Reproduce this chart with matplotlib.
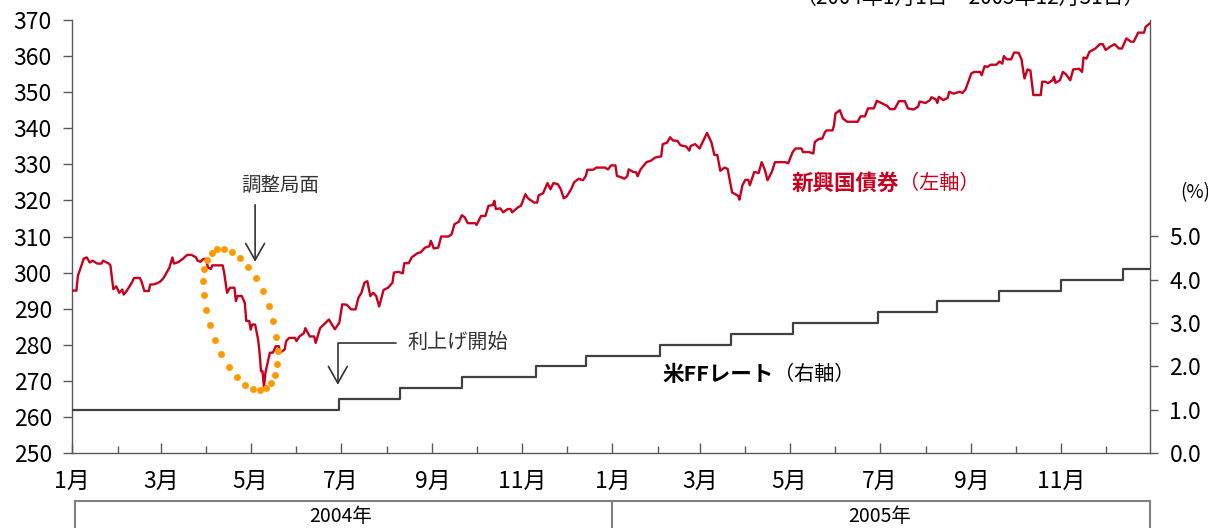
import matplotlib
matplotlib.use('Agg')
import matplotlib.pyplot as plt
import matplotlib.dates as mdates
import matplotlib.transforms as mtransforms
from matplotlib.ticker import FuncFormatter
import numpy as np
import pandas as pd

plt.rcParams['font.family'] = ['Noto Sans CJK JP', 'DejaVu Sans']

# 新興国債券 (左軸): days since 2004-01-01 and index level
bond_day = [
    0, 3, 4, 8, 10, 12, 14, 17, 20, 21, 25, 26, 28, 30, 32, 34, 35, 37, 39, 41,
    42, 46, 47, 49, 52, 53, 55, 58, 60, 62, 66, 68, 69, 72, 75, 78, 81, 84, 85, 87,
    89, 91, 92, 94, 95, 102, 103, 105, 107, 110, 111, 112, 115, 117, 118, 120, 121, 122, 124, 126,
    127, 128, 129, 130, 131, 132, 134, 136, 138, 140, 141, 144, 145, 147, 151, 152, 154, 157, 158, 161,
    164, 165, 168,
    174, 176, 178, 181, 183, 186, 189, 192, 194, 196, 198, 200, 202, 204, 206, 208, 211, 214, 217, 218,
    221, 224, 225, 228, 230, 234, 236, 237, 239, 242, 243, 245, 248, 250, 255, 257, 259, 262, 264, 266,
    268, 273, 274, 277, 280, 282, 285, 286, 287, 290, 292, 295, 297, 298, 302, 304, 307, 309, 313, 315,
    316, 319, 322, 324, 326, 329, 331, 333, 335, 338, 340, 343, 346, 348, 349, 353, 355, 361, 363, 365,
    368, 369, 372, 374, 376, 377, 380, 382, 383, 385, 389, 392, 395, 399, 400, 403, 405, 407, 410, 412,
    416, 418, 419, 422, 425, 428, 430, 433, 435, 437, 439, 442, 444, 447, 451,
    452, 454, 456, 458, 459, 462, 465, 467, 469, 471, 474, 476, 483, 485, 488, 490, 494, 495, 499, 502,
    503, 506, 508, 510, 511, 515, 516, 517, 520, 522, 525, 532, 534, 537, 539, 543, 545, 548, 552, 554,
    557, 560, 564, 566, 570, 573, 574, 578, 581, 582, 585, 586, 587, 590, 593, 594, 597, 601, 603, 605,
    607, 609, 611, 615, 616, 618, 620, 622, 626, 628, 630, 631, 633, 636, 638, 641, 643, 644, 645, 647,
    649, 651, 656, 657, 659, 661, 664, 665, 666, 669, 671, 673, 676, 678, 682, 684, 685, 687, 689, 693,
    696, 698, 700, 703, 706, 709, 711, 714, 717, 719, 722, 726, 727, 730,
]
bond_value = [
    295.0, 295.0, 299.1, 303.9, 304.2, 302.8, 303.3, 302.5, 302.5, 303.3, 302.5, 302.0, 295.4, 296.2, 294.4, 295.3, 293.9, 294.9, 296.2, 297.6,
    298.5, 298.5, 297.6, 294.9, 294.9, 296.7, 296.7, 297.1, 297.6, 298.5, 301.4, 304.2, 302.5, 302.9, 303.8, 304.9, 304.9, 304.2, 303.3, 303.0,
    303.8, 303.8, 301.4, 301.0, 302.0, 302.0, 300.1, 294.4, 295.8, 295.8, 292.1, 293.5, 293.5, 291.6, 286.6, 286.6, 284.2, 285.6, 285.6, 281.5,
    277.8, 272.7, 272.7, 268.1, 272.3, 274.1, 277.8, 277.8, 279.6, 279.6, 277.8, 278.7, 281.0, 281.9, 281.9, 281.0, 282.3, 283.2, 284.6, 282.3,
    282.3, 280.5, 284.6,
    287.0, 285.6, 284.3, 286.1, 291.2, 291.1, 289.8, 289.8, 293.1, 294.4, 297.2, 297.6, 293.5, 294.4, 293.5, 290.6, 295.2, 295.8, 297.2, 300.0,
    300.2, 299.8, 302.6, 302.6, 304.2, 305.4, 305.6, 306.0, 306.9, 307.3, 308.8, 306.7, 306.9, 310.0, 310.0, 310.6, 313.4, 314.1, 315.9, 315.3,
    313.7, 313.7, 313.2, 315.7, 315.7, 318.5, 318.7, 319.9, 317.6, 317.8, 316.7, 317.6, 317.6, 316.7, 318.1, 318.5, 321.7, 320.5, 319.4, 319.4,
    321.4, 322.0, 324.8, 323.1, 324.8, 324.5, 323.1, 320.6, 321.1, 323.1, 325.0, 326.0, 325.6, 326.8, 328.5, 328.5, 329.1, 329.1, 328.6, 329.7,
    329.7, 326.8, 326.4, 326.0, 326.7, 328.6, 327.9, 327.8, 326.7, 328.6, 330.6, 331.0, 331.9, 332.2, 335.6, 336.0, 337.5, 336.6, 336.5, 335.3,
    334.9, 333.8, 335.1, 335.6, 334.4, 337.0, 338.7, 336.1, 332.6, 332.6, 328.2, 329.1, 328.7, 322.2, 321.3,
    320.2, 324.2, 325.7, 325.7, 324.2, 327.9, 327.6, 330.6, 328.7, 325.6, 328.0, 330.6, 330.6, 330.3, 333.4, 334.4, 334.4, 333.4, 333.4, 333.0,
    336.2, 337.1, 337.1, 339.0, 339.4, 339.4, 340.8, 344.1, 345.0, 342.7, 341.8, 341.8, 343.3, 343.3, 345.5, 345.5, 347.6, 347.0, 346.2, 345.3,
    345.3, 347.5, 347.5, 345.5, 345.2, 346.0, 347.4, 347.0, 347.8, 348.6, 348.0, 347.0, 348.7, 347.8, 348.4, 350.1, 349.6, 350.1, 349.8, 350.7,
    352.9, 355.2, 355.6, 355.6, 354.7, 357.2, 357.0, 357.6, 357.6, 358.5, 357.9, 360.0, 359.1, 359.1, 361.0, 360.9, 359.1, 356.3, 353.8, 356.3,
    356.0, 349.2, 349.2, 352.9, 352.9, 352.5, 353.3, 354.3, 352.6, 353.3, 355.6, 355.0, 353.3, 356.3, 356.5, 355.6, 359.6, 359.3, 361.2, 362.1,
    363.3, 363.3, 361.7, 362.6, 363.3, 362.1, 362.1, 364.9, 364.0, 364.0, 366.5, 366.5, 368.1, 369.1,
]

# 米FFレート (右軸, %)
ff_dates = ['2004-01-01', '2004-06-30', '2004-08-10', '2004-09-21', '2004-11-10',
            '2004-12-14', '2005-02-02', '2005-03-22', '2005-05-03', '2005-06-30',
            '2005-08-09', '2005-09-20', '2005-11-01', '2005-12-13', '2005-12-31']
ff_rate = [1.00, 1.25, 1.50, 1.75, 2.00, 2.25, 2.50, 2.75, 3.00, 3.25,
           3.50, 3.75, 4.00, 4.25, 4.25]

years = ['2004年', '2005年']
left_ticks = np.arange(250, 371, 10)
right_ticks = np.arange(0, 5.1, 1.0)

RED = '#C8001E'
GREY = '#404040'
AXIS = '#595959'
ORANGE = '#FF9900'


def d(s):
    return mdates.date2num(pd.Timestamp(s))


start = pd.Timestamp('2004-01-01')
bond_dates = start + pd.to_timedelta(bond_day, unit='D')

fig = plt.figure(figsize=(12.08, 5.28), dpi=100)
ax = fig.add_axes([72 / 1208, 1 - 453 / 528, 1078 / 1208, 433 / 528])
ax2 = ax.twinx()

ax.plot(bond_dates, bond_value, color=RED, lw=1.7, zorder=3)
ax2.plot(pd.to_datetime(ff_dates), ff_rate, color=GREY, lw=1.6,
         drawstyle='steps-post')

ax.set_xlim(d('2004-01-01'), d('2005-12-31'))
ax.set_ylim(250, 370)
ax2.set_ylim(0, 10)
ax.set_yticks(left_ticks)
ax2.set_yticks(right_ticks)
ax2.yaxis.set_major_formatter(FuncFormatter(lambda v, p: f'{v:.1f}'))

ax.xaxis.set_major_locator(mdates.MonthLocator(bymonth=[1, 3, 5, 7, 9, 11]))
ax.xaxis.set_minor_locator(mdates.MonthLocator())
ax.xaxis.set_major_formatter(
    FuncFormatter(lambda v, p: f'{mdates.num2date(v).month}月'))

for a in (ax, ax2):
    a.spines['top'].set_visible(False)
    for s in a.spines.values():
        s.set_color(AXIS)
        s.set_linewidth(1.0)
ax.spines['right'].set_visible(False)
ax2.spines['left'].set_visible(False)
ax2.spines['bottom'].set_visible(False)

ax.tick_params(axis='x', which='major', direction='in', length=7, width=1,
               color=AXIS, labelsize=16.5, pad=12)
ax.tick_params(axis='x', which='minor', direction='in', length=5, width=1,
               color=AXIS)
ax.tick_params(axis='y', direction='out', length=6.5, width=1, color=AXIS,
               labelsize=16.5, pad=8)
ax2.tick_params(axis='y', direction='out', length=6, width=1, color=AXIS,
                labelsize=16.5, pad=8)

# year row below the month labels
bt = mtransforms.blended_transform_factory(ax.transData, ax.transAxes)
y_top = -0.110
ax.plot([d('2004-01-03'), d('2005-12-31')], [y_top, y_top], transform=bt,
        color='#808080', lw=1.5, clip_on=False)
for s in ['2004-01-03', '2005-01-01', '2005-12-31']:
    ax.plot([d(s), d(s)], [y_top, -0.3], transform=bt, color='#808080',
            lw=1.5, clip_on=False)
for lab, mid in zip(years, ['2004-07-01', '2005-07-01']):
    ax.text(d(mid), -0.147, lab, transform=bt, ha='center', va='center',
            fontsize=14)

# dotted ellipse around the correction
ell_trans = fig.dpi_scale_trans + mtransforms.ScaledTranslation(
    d('2004-04-24'), 287.0, ax.transData)
t = np.linspace(0, 2 * np.pi, 29, endpoint=False)
th = np.deg2rad(108)
a_in, b_in = 0.74, 0.31
ex = a_in * np.cos(t) * np.cos(th) - b_in * np.sin(t) * np.sin(th)
ey = a_in * np.cos(t) * np.sin(th) + b_in * np.sin(t) * np.cos(th)
ax.plot(ex, ey, 'o', color=ORANGE, ms=5, mec='none', transform=ell_trans,
        zorder=4, clip_on=False)

arrow = dict(arrowstyle='->,head_length=1.2,head_width=0.68',
             mutation_scale=10, color='#333333', lw=1.2, shrinkA=0, shrinkB=0)

# 調整局面
ax.annotate('', xy=(d('2004-05-04'), 303.0), xytext=(d('2004-05-04'), 318.8),
            arrowprops=arrow)
ax.text(d('2004-05-21'), 324.3, '調整局面', ha='center', va='center',
        fontsize=14, color='#333333')

# 利上げ開始
arrow2 = dict(arrow, shrinkA=6, connectionstyle='angle,angleA=0,angleB=90,rad=0')
ax.annotate('利上げ開始', xy=(d('2004-06-29'), 268.9),
            xytext=(d('2004-08-15'), 280.6), ha='left', va='center',
            fontsize=14.5, color='#333333', arrowprops=arrow2)

# series labels
t1 = ax.text(d('2005-05-02'), 324.8, '新興国債券', ha='left', va='center',
             fontsize=15.5, fontweight='bold', color=RED)
ax.annotate('（左軸）', xy=(1, 0.5), xycoords=t1, ha='left', va='center',
            fontsize=14.5, color=RED)
t2 = ax.text(d('2005-02-04'), 271.7, '米FFレート', ha='left', va='center',
             fontsize=15.5, fontweight='bold', color='black')
ax.annotate('（右軸）', xy=(1, 0.5), xycoords=t2, ha='left', va='center',
            fontsize=14.5, color='black')

fig.text(1195 / 1208, 1 - 193 / 528, '(%)', ha='center', va='center',
         fontsize=13.5)
fig.text(1145 / 1208, 1.004, '（2004年1月1日～2005年12月31日）', ha='right',
         va='center', fontsize=15)

fig.savefig('out.png', dpi=100)
